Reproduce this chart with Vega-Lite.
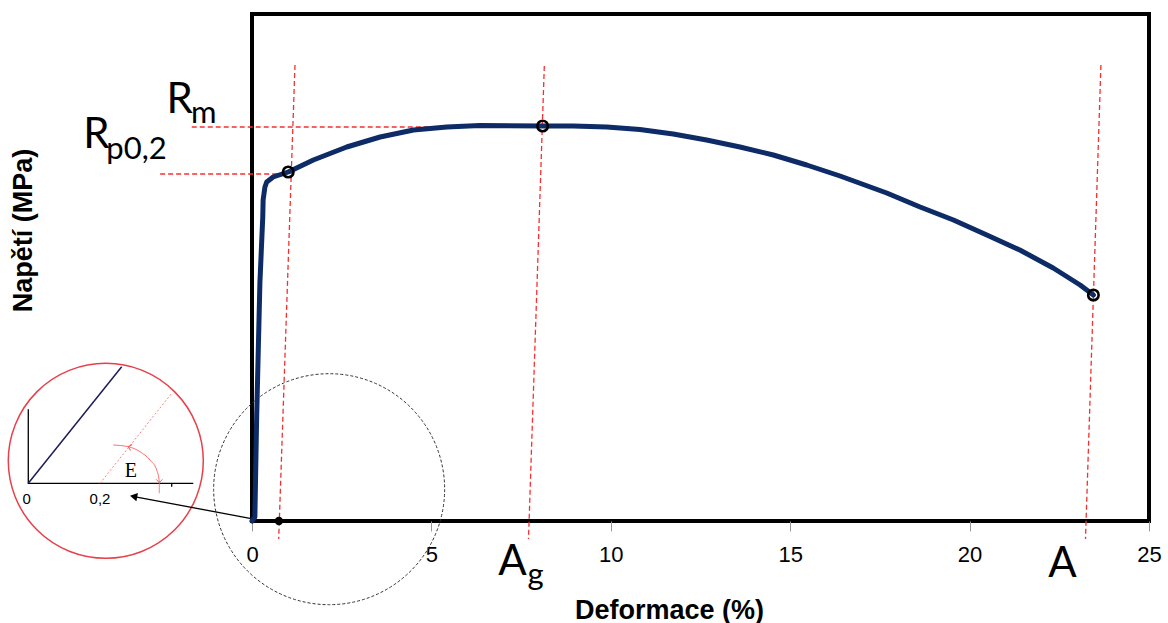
{
  "$schema": "https://vega.github.io/schema/vega-lite/v6.json",
  "width": 897,
  "height": 507,
  "autosize": "none",
  "padding": {"left": 252, "top": 14, "right": 19, "bottom": 102},
  "background": "white",
  "config": {"view": {"stroke": "black", "strokeWidth": 4}, "axis": {"grid": false}},
  "datasets": {
    "curve": [
      {"x": 0, "y": 0}, {"x": 0.08, "y": 4}, {"x": 0.13, "y": 104}, {"x": 0.22, "y": 238},
      {"x": 0.30, "y": 304}, {"x": 0.31, "y": 321}, {"x": 0.36, "y": 334}, {"x": 0.41, "y": 339},
      {"x": 0.59, "y": 344}, {"x": 1.01, "y": 349}, {"x": 1.71, "y": 361}, {"x": 2.64, "y": 374},
      {"x": 3.57, "y": 384}, {"x": 4.50, "y": 391}, {"x": 5.43, "y": 394}, {"x": 6.35, "y": 395.5},
      {"x": 8.10, "y": 395}, {"x": 8.95, "y": 395}, {"x": 9.89, "y": 394}, {"x": 10.81, "y": 391.5},
      {"x": 11.74, "y": 387}, {"x": 12.67, "y": 381}, {"x": 13.60, "y": 374}, {"x": 14.53, "y": 366},
      {"x": 15.46, "y": 356}, {"x": 16.39, "y": 345}, {"x": 17.69, "y": 328}, {"x": 18.62, "y": 314},
      {"x": 19.55, "y": 301}, {"x": 20.48, "y": 286}, {"x": 21.40, "y": 271}, {"x": 22.33, "y": 253},
      {"x": 23.08, "y": 236}, {"x": 23.45, "y": 226}
    ],
    "keypoints": [
      {"name": "Rp0,2", "x": 1.01, "y": 349},
      {"name": "Rm", "x": 8.10, "y": 395},
      {"name": "A", "x": 23.45, "y": 226}
    ],
    "origin02": [{"x": 0.75, "y": 0}],
    "guides": [
      {"g": "vRp", "o": 0, "x": 1.198, "y": 456}, {"g": "vRp", "o": 1, "x": 0.744, "y": -18},
      {"g": "vRm", "o": 0, "x": 8.147, "y": 455}, {"g": "vRm", "o": 1, "x": 7.706, "y": -18},
      {"g": "vA", "o": 0, "x": 23.66, "y": 456}, {"g": "vA", "o": 1, "x": 23.23, "y": -18},
      {"g": "hRm", "o": 0, "x": -1.68, "y": 394}, {"g": "hRm", "o": 1, "x": 8.10, "y": 394},
      {"g": "hRp", "o": 0, "x": -2.56, "y": 347}, {"g": "hRp", "o": 1, "x": 1.0, "y": 347}
    ],
    "bigLabels": [
      {"t": "R", "x": -2.38, "y": 407.7},
      {"t": "R", "x": -4.70, "y": 372.7},
      {"t": "A", "x": 6.86, "y": -54},
      {"t": "A", "x": 22.19, "y": -55.7}
    ],
    "subLabels": [
      {"t": "m", "x": -1.70, "y": 397.7},
      {"t": "p0,2", "x": -4.06, "y": 361.7},
      {"t": "g", "x": 7.68, "y": -64}
    ],
    "circles": [
      {"c": "inset", "x": -4.075, "y": 60.2},
      {"c": "zoom", "x": 2.15, "y": 31.8}
    ],
    "insetBlack": [
      {"g": "ax", "o": 0, "x": -6.235, "y": 111.7}, {"g": "ax", "o": 1, "x": -6.235, "y": 37.7},
      {"g": "ax", "o": 2, "x": -1.636, "y": 37.7},
      {"g": "tk", "o": 0, "x": -2.238, "y": 37.7}, {"g": "tk", "o": 1, "x": -2.238, "y": 34.3},
      {"g": "arrow", "o": 0, "x": -0.056, "y": 2.7}, {"g": "arrow", "o": 1, "x": -3.25, "y": 24.1}
    ],
    "insetBlue": [{"x": -6.235, "y": 37.7}, {"x": -3.632, "y": 154.3}],
    "insetRed": [{"x": -4.236, "y": 37.7}, {"x": -2.238, "y": 127.7}],
    "insetArc": [
      {"o": 0, "x": -3.866, "y": 76}, {"o": 1, "x": -3.448, "y": 74.3}, {"o": 2, "x": -3.122, "y": 69.3},
      {"o": 3, "x": -2.843, "y": 61}, {"o": 4, "x": -2.656, "y": 51}, {"o": 5, "x": -2.584, "y": 39.3},
      {"o": 6, "x": -2.584, "y": 27.7}
    ],
    "arcHeads": [
      {"x": -3.448, "y": 74.3, "a": 195},
      {"x": -2.584, "y": 38.5, "a": 90}
    ],
    "arrowHead": [{"x": -3.30, "y": 24.6}],
    "insetText": [
      {"t": "0", "x": -6.28, "y": 17},
      {"t": "0,2", "x": -4.236, "y": 17}
    ],
    "insetE": [{"t": "E", "x": -3.378, "y": 44.3}]
  },
  "encoding": {
    "x": {
      "field": "x", "type": "quantitative",
      "scale": {"domain": [0, 25], "nice": false, "zero": false},
      "axis": {
        "values": [0, 5, 10, 15, 20, 25], "labelFont": "Liberation Sans", "labelFontSize": 22,
        "labelColor": "black", "labelFlush": false, "labelPadding": 13, "tickColor": "#999999",
        "tickSize": 10, "tickWidth": 1, "domain": false, "grid": false,
        "title": "Deformace (%)", "titleFont": "Liberation Sans", "titleFontSize": 27,
        "titleFontWeight": "bold", "titleColor": "black", "titleX": 417, "titleY": 97,
        "titleBaseline": "alphabetic", "titleAlign": "center"
      }
    },
    "y": {
      "field": "y", "type": "quantitative",
      "scale": {"domain": [0, 507], "nice": false, "zero": false},
      "axis": {
        "labels": false, "ticks": false, "domain": false, "grid": false,
        "title": "Napětí (MPa)", "titleFont": "Liberation Sans", "titleFontSize": 27,
        "titleFontWeight": "bold", "titleColor": "black", "titleAngle": -90,
        "titleX": -221, "titleY": 216, "titleBaseline": "alphabetic", "titleAlign": "center"
      }
    }
  },
  "layer": [
    {
      "data": {"name": "circles"},
      "transform": [{"filter": "datum.c === 'inset'"}],
      "mark": {"type": "point", "shape": "circle", "size": 38025, "filled": false, "stroke": "#e8404a", "strokeWidth": 1.5, "opacity": 1, "clip": false}
    },
    {
      "data": {"name": "circles"},
      "transform": [{"filter": "datum.c === 'zoom'"}],
      "mark": {"type": "point", "shape": "circle", "size": 53361, "filled": false, "stroke": "#333333", "strokeWidth": 1, "strokeDash": [3, 2], "opacity": 1, "clip": false}
    },
    {
      "data": {"name": "insetBlack"},
      "mark": {"type": "line", "color": "black", "strokeWidth": 1.3, "clip": false},
      "encoding": {"detail": {"field": "g"}, "order": {"field": "o"}}
    },
    {
      "data": {"name": "insetBlue"},
      "mark": {"type": "line", "color": "#1c1c5a", "strokeWidth": 1.5, "clip": false},
      "encoding": {}
    },
    {
      "data": {"name": "insetRed"},
      "mark": {"type": "line", "color": "#ff8080", "strokeWidth": 1, "strokeDash": [2, 2], "clip": false},
      "encoding": {}
    },
    {
      "data": {"name": "insetArc"},
      "mark": {"type": "line", "color": "#ff7070", "strokeWidth": 1, "interpolate": "monotone", "clip": false},
      "encoding": {"order": {"field": "o"}}
    },
    {
      "data": {"name": "arcHeads"},
      "mark": {"type": "point", "shape": "M-1,-1L0,0L-1,1", "size": 40, "filled": false, "stroke": "#ff5a5a", "strokeWidth": 1, "opacity": 1, "clip": false},
      "encoding": {"angle": {"field": "a", "type": "quantitative", "scale": null}}
    },
    {
      "data": {"name": "arrowHead"},
      "mark": {"type": "point", "shape": "triangle-left", "size": 70, "filled": true, "color": "black", "opacity": 1, "angle": 10.6, "clip": false}
    },
    {
      "data": {"name": "insetText"},
      "mark": {"type": "text", "font": "Liberation Sans", "fontSize": 15, "color": "black", "align": "center", "baseline": "alphabetic", "clip": false},
      "encoding": {"text": {"field": "t"}}
    },
    {
      "data": {"name": "insetE"},
      "mark": {"type": "text", "font": "Liberation Serif", "fontSize": 20, "color": "black", "align": "center", "baseline": "alphabetic", "clip": false},
      "encoding": {"text": {"field": "t"}}
    },
    {
      "data": {"name": "guides"},
      "mark": {"type": "line", "color": "#f52f2f", "strokeWidth": 1.3, "strokeDash": [5, 3], "clip": false},
      "encoding": {"detail": {"field": "g"}, "order": {"field": "o"}}
    },
    {
      "data": {"name": "curve"},
      "mark": {"type": "line", "color": "#0d2b66", "strokeWidth": 5, "strokeCap": "round", "strokeJoin": "round", "clip": false},
      "encoding": {}
    },
    {
      "data": {"name": "keypoints"},
      "mark": {"type": "point", "shape": "circle", "size": 110, "filled": false, "stroke": "black", "strokeWidth": 2.6, "opacity": 1, "clip": false}
    },
    {
      "data": {"name": "origin02"},
      "mark": {"type": "point", "shape": "circle", "size": 70, "filled": true, "color": "black", "opacity": 1, "clip": false}
    },
    {
      "data": {"name": "bigLabels"},
      "mark": {"type": "text", "font": "Lato", "fontSize": 42, "color": "black", "align": "left", "baseline": "alphabetic", "clip": false},
      "encoding": {"text": {"field": "t"}}
    },
    {
      "data": {"name": "subLabels"},
      "mark": {"type": "text", "font": "Lato", "fontSize": 31, "color": "black", "align": "left", "baseline": "alphabetic", "clip": false},
      "encoding": {"text": {"field": "t"}}
    }
  ]
}
